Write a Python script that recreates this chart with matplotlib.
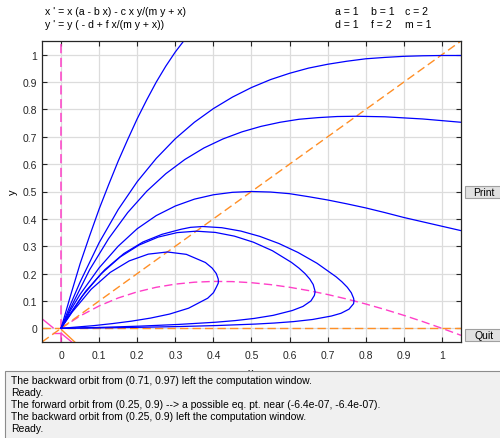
import matplotlib
matplotlib.use('Agg')
import matplotlib.pyplot as plt
from matplotlib import patches

plt.rcParams['font.family'] = ['Liberation Sans', 'DejaVu Sans']

# ---- data ----
# solution curves (x, y)
c1_x = [0, 0.025, 0.05, 0.075, 0.1, 0.125, 0.15, 0.175, 0.2, 0.225, 0.25, 0.275, 0.3, 0.322]
c1_y = [0, 0.12, 0.236, 0.338, 0.436, 0.525, 0.611, 0.69, 0.766, 0.835, 0.9, 0.958, 1.01, 1.05]

c2_x = [0, 0.025, 0.05, 0.1, 0.15, 0.2, 0.25, 0.3, 0.35, 0.4, 0.45, 0.5, 0.55, 0.6, 0.65, 0.7,
        0.75, 0.8, 0.85, 0.9, 0.95, 1.0, 1.05]
c2_y = [0, 0.088, 0.169, 0.313, 0.434, 0.536, 0.621, 0.693, 0.753, 0.803, 0.845, 0.88, 0.909, 0.932,
        0.951, 0.965, 0.976, 0.985, 0.99, 0.994, 0.996, 0.997, 0.997]

c3_x = [0, 0.025, 0.075, 0.125, 0.175, 0.225, 0.275, 0.325, 0.375, 0.425, 0.475, 0.525, 0.575, 0.625,
        0.675, 0.725, 0.775, 0.85, 0.95, 1.05]
c3_y = [0, 0.074, 0.214, 0.328, 0.423, 0.501, 0.565, 0.617, 0.659, 0.692, 0.718, 0.738, 0.753, 0.764,
        0.770, 0.774, 0.775, 0.773, 0.765, 0.753]

c4_x = [0, 0.025, 0.05, 0.1, 0.15, 0.2, 0.25, 0.3, 0.35, 0.4, 0.45, 0.5, 0.55, 0.6, 0.65, 0.7, 0.75,
        0.8, 0.85, 0.9, 0.95, 1.0, 1.05]
c4_y = [0, 0.066, 0.124, 0.221, 0.30, 0.364, 0.412, 0.447, 0.472, 0.488, 0.497, 0.5, 0.498, 0.492,
        0.481, 0.469, 0.455, 0.44, 0.423, 0.405, 0.389, 0.373, 0.357]

loopA_x = [0, 0.11, 0.21, 0.31, 0.41, 0.51, 0.56, 0.61, 0.66, 0.71, 0.735, 0.756, 0.768, 0.769,
           0.768, 0.762, 0.7515, 0.7374, 0.722, 0.672, 0.622, 0.572, 0.522, 0.472, 0.422, 0.372,
           0.34, 0.315, 0.265, 0.215, 0.165, 0.115, 0.065, 0.015, 0]
loopA_y = [0, 0.0017, 0.0038, 0.0065, 0.0102, 0.0155, 0.0193, 0.0245, 0.0322, 0.045, 0.055, 0.07, 0.09, 0.101,
           0.11, 0.13, 0.15, 0.17, 0.1884, 0.2377, 0.2773, 0.3099, 0.3359, 0.3554, 0.3677, 0.372,
           0.369, 0.362, 0.3435, 0.3155, 0.2733, 0.2143, 0.136, 0.035, 0]

loopB_x = [0, 0.107, 0.207, 0.307, 0.407, 0.457, 0.507, 0.557, 0.607, 0.635, 0.656, 0.665, 0.667,
           0.666, 0.662, 0.653, 0.6405, 0.6246, 0.605, 0.555, 0.505, 0.455, 0.405, 0.355,
           0.305, 0.255, 0.205, 0.155, 0.105, 0.055, 0.005, 0]
loopB_y = [0, 0.0035, 0.008, 0.0141, 0.0224, 0.0282, 0.0361, 0.0474, 0.065, 0.08, 0.1, 0.12, 0.133,
           0.14, 0.16, 0.18, 0.2, 0.22, 0.2408, 0.2835, 0.3147, 0.3369, 0.3505, 0.355,
           0.3498, 0.3334, 0.3044, 0.2606, 0.199, 0.1168, 0.011, 0]

loopC_x = [0, 0.035, 0.085, 0.135, 0.185, 0.235, 0.285, 0.335, 0.385, 0.40, 0.4076, 0.4127, 0.413,
           0.4127, 0.4076, 0.3968, 0.379, 0.329, 0.279, 0.229, 0.179, 0.129, 0.079, 0.029, 0]
loopC_y = [0, 0.004, 0.0097, 0.0173, 0.0262, 0.0374, 0.0521, 0.0736, 0.11, 0.13, 0.15, 0.165, 0.172,
           0.18, 0.2, 0.22, 0.2405, 0.2703, 0.279, 0.2711, 0.2464, 0.2043, 0.1426, 0.059, 0]

curves = [(c1_x, c1_y), (c2_x, c2_y), (c3_x, c3_y), (c4_x, c4_y),
          (loopA_x, loopA_y), (loopB_x, loopB_y), (loopC_x, loopC_y)]

# nullclines
xnull_x = [0, 0.05, 0.1, 0.15, 0.2, 0.25, 0.3, 0.35, 0.4, 0.45, 0.5, 0.55, 0.6, 0.65, 0.7, 0.75,
           0.8, 0.85, 0.9, 0.95, 1.0, 1.05]
xnull_y = [0, 0.0452, 0.0818, 0.1109, 0.1333, 0.15, 0.1615, 0.1685, 0.1714, 0.1707, 0.1667, 0.1597,
           0.15, 0.1379, 0.1235, 0.1071, 0.0889, 0.0689, 0.0474, 0.0244, 0.0, -0.0256]
ynull_diag = [-0.05, 1.05]

# little contour pieces near the origin
mag_bits = [([-0.05, -0.021], [0.035, 0.002]), ([-0.021, 0.0], [-0.016, -0.016]),
            ([0.0, 0.028], [-0.018, -0.05])]
org_bits = [([0.002, 0.036], [-0.006, -0.05])]

ticks = [0, 0.1, 0.2, 0.3, 0.4, 0.5, 0.6, 0.7, 0.8, 0.9, 1]
tick_labels = ['0', '0.1', '0.2', '0.3', '0.4', '0.5', '0.6', '0.7', '0.8', '0.9', '1']

eq_lines = ["x ' = x (a - b x) - c x y/(m y + x)", "y ' = y ( - d + f x/(m y + x))"]
par_rows = [["a = 1", "b = 1", "c = 2"], ["d = 1", "f = 2", "m = 1"]]

messages = ["The backward orbit from (0.71, 0.97) left the computation window.",
            "Ready.",
            "The forward orbit from (0.25, 0.9) --> a possible eq. pt. near (-6.4e-07, -6.4e-07).",
            "The backward orbit from (0.25, 0.9) left the computation window.",
            "Ready."]

# ---- figure ----
W, H = 500, 439
fig = plt.figure(figsize=(W / 100, H / 100), dpi=100)
fig.patch.set_facecolor('white')
ax = fig.add_axes([42 / W, 1 - 343 / H, 419 / W, 301 / H])

magenta = '#ff3fc8'
orange = '#ff8f26'
dash = (6, 3)

ax.axvline(0, color=magenta, lw=1.1, dashes=dash)
ax.plot(xnull_x, xnull_y, color=magenta, lw=1.0, dashes=dash)
for bx, by in mag_bits:
    ax.plot(bx, by, color=magenta, lw=1.0)
ax.axhline(0, color=orange, lw=1.0, dashes=dash)
ax.plot(ynull_diag, ynull_diag, color=orange, lw=1.0, dashes=dash)
for bx, by in org_bits:
    ax.plot(bx, by, color=orange, lw=1.0)

for cx, cy in curves:
    ax.plot(cx, cy, color='#0000ff', lw=0.9)

ax.set_xlim(-0.05, 1.05)
ax.set_ylim(-0.05, 1.05)
ax.set_xticks(ticks)
ax.set_xticklabels(tick_labels)
ax.set_yticks(ticks)
ax.set_yticklabels(tick_labels)
ax.tick_params(direction='in', top=True, right=True, length=3.5, width=0.8,
               labelsize=7.5, colors='#262626')
ax.tick_params(axis='x', pad=5.5)
ax.tick_params(axis='y', pad=3.5)
ax.grid(True, color='#dcdcdc', lw=0.9)
ax.set_axisbelow(True)
for s in ax.spines.values():
    s.set_linewidth(0.9)
    s.set_color('#262626')

fig.text(251 / W, 1 - 368 / H, 'x', fontsize=8, ha='center', va='top', zorder=1)
fig.text(13 / W, 1 - 192 / H, 'y', fontsize=8, ha='center', va='center', rotation=90)

for i, line in enumerate(eq_lines):
    fig.text(45 / W, 1 - (12 + 13 * i) / H, line, fontsize=7.6, va='center', ha='left')
for i, row in enumerate(par_rows):
    for j, item in enumerate(row):
        fig.text([335, 371, 405][j] / W, 1 - (12 + 13 * i) / H, item, fontsize=7.6,
                 va='center', ha='left')

# buttons
for label, ytop in [('Print', 187), ('Quit', 330)]:
    fig.add_artist(patches.Rectangle((465 / W, 1 - (ytop + 12) / H), 40 / W, 12 / H,
                                     transform=fig.transFigure, facecolor='#e1e1e1',
                                     edgecolor='#a0a0a0', lw=0.8))
    fig.text(484 / W, 1 - (ytop + 6) / H, label, fontsize=7.5, ha='center', va='center')

# message box
box = patches.Rectangle((5 / W, -0.01), 500 / W, (H - 372) / H + 0.01,
                        transform=fig.transFigure, facecolor='#f0f0f0', edgecolor='#8c8c8c',
                        lw=0.8, zorder=5)
fig.add_artist(box)
for i, msg in enumerate(messages):
    fig.text(11 / W, 1 - (381.5 + 11.8 * i) / H, msg, fontsize=7.5, ha='left', va='center',
             zorder=6)

fig.savefig('out.png', dpi=100)
